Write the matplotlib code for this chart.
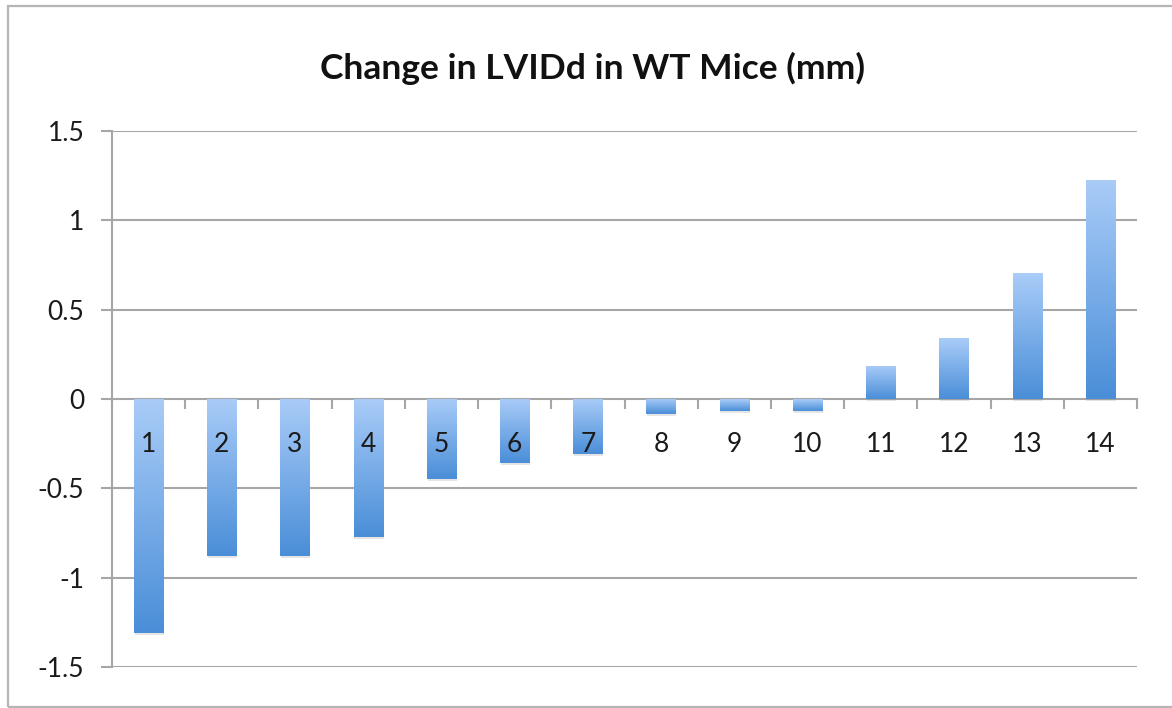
import numpy as np
import matplotlib
matplotlib.use("Agg")
import matplotlib.pyplot as plt
from matplotlib import patheffects as pe
from matplotlib.colors import LinearSegmentedColormap
from matplotlib.patches import Rectangle
import matplotlib.transforms as mtransforms

# Data
categories = ["1", "2", "3", "4", "5", "6", "7", "8", "9", "10", "11", "12", "13", "14"]
lvidd_change = [-1.31, -0.88, -0.88, -0.77, -0.45, -0.36, -0.31,
                -0.085, -0.065, -0.065, 0.185, 0.34, 0.705, 1.225]
y_ticks = [-1.5, -1, -0.5, 0, 0.5, 1, 1.5]
y_tick_labels = ["-1.5", "-1", "-0.5", "0", "0.5", "1", "1.5"]
title = "Change in LVIDd in WT Mice (mm)"

plt.rcParams["font.family"] = ["Lato", "DejaVu Sans"]

W, H = 1172, 708
fig = plt.figure(figsize=(W / 100, H / 100), dpi=100)
fig.patch.set_facecolor("white")

# chart frame
fig.add_artist(Rectangle((8 / W, 1 - 707 / H), 1.2, (707 - 6) / H,
                         transform=fig.transFigure, fill=False,
                         edgecolor="#b5b5b5", linewidth=1.6))

ax = fig.add_axes([112 / W, 1 - 667 / H, (1137 - 112) / W, (667 - 131) / H])
n = len(categories)
x = np.arange(n)
ax.set_xlim(-0.5, n - 0.5)
ax.set_ylim(-1.5, 1.5)

grid_color = "#a6a6a6"
for yv in y_ticks:
    if yv != 0:
        ax.axhline(yv, color=grid_color, linewidth=1.5, zorder=0)

cmap = LinearSegmentedColormap.from_list("barfill", ["#a9ccf8", "#4a8ed8"])
grad = np.linspace(0, 1, 256).reshape(-1, 1)

bars = ax.bar(x, lvidd_change, width=0.4, color="#4a8ed8", zorder=2,
              linewidth=0)
for b in bars:
    b.set_path_effects([pe.SimplePatchShadow(offset=(0.5, -1.5),
                                             shadow_rgbFace="#9a9a9a",
                                             alpha=0.25),
                        pe.Normal()])
    x0, y0 = b.get_x(), b.get_y()
    w, h = b.get_width(), b.get_height()
    ylo, yhi = min(y0, y0 + h), max(y0, y0 + h)
    im = ax.imshow(grad, cmap=cmap, aspect="auto", origin="upper",
                   extent=(x0, x0 + w, ylo, yhi), zorder=2.1,
                   interpolation="bilinear")
    im.set_clip_path(b)

ax.set_xlim(-0.5, n - 0.5)
ax.set_ylim(-1.5, 1.5)

# axes styling
for side in ["top", "right"]:
    ax.spines[side].set_visible(False)
ax.spines["bottom"].set_position(("data", 0))
ax.spines["bottom"].set_color(grid_color)
ax.spines["bottom"].set_linewidth(1.5)
ax.spines["bottom"].set_zorder(1.5)
ax.spines["left"].set_color(grid_color)
ax.spines["left"].set_linewidth(1.5)

ax.set_yticks(y_ticks)
ax.set_yticklabels(y_tick_labels)
ax.tick_params(axis="y", direction="out", length=8, width=1.5,
               color=grid_color, labelsize=19, labelcolor="#1a1a1a", pad=12)

ax.set_xticks(np.arange(n + 1) - 0.5)
ax.set_xticklabels([])
ax.tick_params(axis="x", direction="out", length=7, width=1.5,
               color=grid_color)

# category labels just under the zero line
lab_tr = mtransforms.offset_copy(ax.transData, fig=fig, x=0, y=-45, units="dots")
for xi, lab in zip(x, categories):
    ax.text(xi, 0, lab, transform=lab_tr, ha="center", va="center",
            fontsize=19, color="#1a1a1a", zorder=5)

fig.text(593 / W, 1 - 68 / H, title, ha="center", va="center",
         fontsize=25.5, fontweight="bold", color="#111111")

fig.savefig("out.png", dpi=100, facecolor="white")
